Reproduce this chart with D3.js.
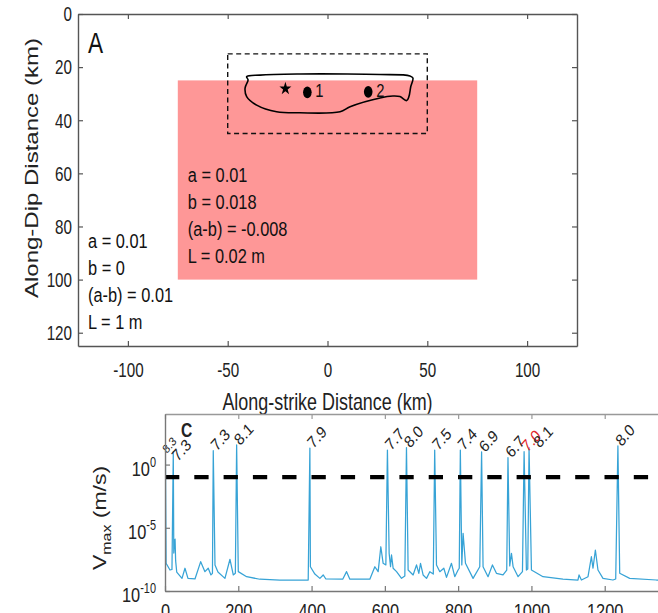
<!DOCTYPE html>
<html><head><meta charset="utf-8">
<script src="https://cdn.jsdelivr.net/npm/d3@7"></script>
<style>
body{margin:0;background:#fff;}
svg{display:block;font-family:"Liberation Sans",Arial,sans-serif;background:#fff;}
</style></head><body>
<svg id="c" width="658" height="613"></svg>
<script>
// ---------------- Panel A data ----------------
const xTicksA = [-100, -50, 0, 50, 100];
const yTicksA = [0, 20, 40, 60, 80, 100, 120];
const vwRegionX = [-75, 75];      // velocity-weakening patch (km)
const vwRegionY = [25, 100];
const boxX = [-50, 50];           // dashed box (km)
const boxY = [15, 45];
const contourX = [-40.5, -33.8, -13.8, 10, 26.3, 41.3, 42.8, 41.7, 40.8, 39.7, 36.3, 32.8, 26.3, 11.3, 6.3, -13.8, -25.5, -35.5, -40.5, -41.3, -39.8];
const contourY = [23.6, 23.0, 22.6, 22.6, 22.8, 23.3, 24.1, 27.4, 31.1, 32.6, 31.1, 30.9, 31.6, 34.9, 36.8, 37.2, 36.8, 34.3, 31.1, 27.9, 24.8];
const markerX = [-21.1, -10.1, 20.4];
const markerY = [28.1, 29.5, 29.3];
const markerShape = ["star", "dot", "dot"];
const markerLabel = ["", "1", "2"];
const vwText = ["a = 0.01", "b = 0.018", "(a-b) = -0.008", "L = 0.02 m"];
const vsText = ["a = 0.01", "b = 0", "(a-b) = 0.01", "L = 1 m"];

// ---------------- Panel C data ----------------
const timeTicks = [0, 200, 400, 600, 800, 1000, 1200];
const vTickExp = [-10, -5, 0];
const thresholdV = 0.1;
const traceT = [0, 3, 13.6, 19, 24, 26, 27.5, 29, 32, 46.4, 54.5, 62.7, 81.8, 97.4, 109, 118, 125.4, 129.5,
  136.4, 144.5, 163.6, 177.3, 186.3, 192, 200, 222.8, 259, 313.6, 390.8, 396.8, 409, 422.7, 431.7, 439, 485,
  495.5, 504.5, 559, 572.7, 581.7, 589, 595.3, 602.7, 611.7, 615.5, 618.2, 622.6, 631.9, 645.5, 654.5,
  663.5, 677.1, 686.4, 692.7, 697.3, 704.4, 713.7, 722.7, 732.2, 740.9, 750, 760.9, 768.2, 781.8, 790.8,
  799.8, 803, 810, 813.5, 820, 840.7, 859, 868, 881.6, 893.6, 904.5, 922.5, 932.6, 940.8, 945.5, 950,
  963.6, 975.5, 986.3, 990, 1000, 1031.6, 1086, 1127, 1130, 1136.4, 1154.4, 1163.6, 1168, 1174.5, 1181.6,
  1195.3, 1222.5, 1230, 1240.9, 1268.2, 1341, 1400];
const traceLogV = [-7.6, -7.8, -8.34, -8.3, -7.0, -6.0, -5.9, -7.6, -8.5, -9.0, -8.2, -9.0, -9.05, -7.68, -8.47, -8.2, -8.73, -8.6,
  -7.94, -8.5, -9.0, -7.49, -8.73, -8.6, -8.47, -8.87, -9.07, -9.13, -9.13, -8.08, -8.66, -9.0, -8.73, -9.05, -9.07,
  -8.47, -9.07, -9.07, -8.08, -8.47, -6.5, -7.81, -7.94, -7.02, -8.08, -7.15, -8.2, -8.47, -9.0, -8.81,
  -8.34, -8.73, -7.94, -8.6, -7.81, -8.73, -9.0, -8.47, -8.66, -7.94, -8.47, -8.2, -8.92, -7.81, -8.87,
  -8.34, -8.2, -7.94, -5.44, -7.81, -9.0, -8.08, -8.08, -8.87, -7.94, -8.6, -8.73, -8.34, -8.02, -7.02, -8.08,
  -8.87, -8.47, -8.34, -8.26, -8.34, -8.87, -9.07, -9.13, -8.73, -9.13, -8.87, -7.29, -8.2, -6.76, -8.34,
  -9.0, -9.13, -9.05, -8.6, -9.0, -9.13, -9.15];
const eventT = [1, 22.6, 131.7, 195.5, 395.4, 607, 659, 736, 806, 864, 936, 980, 993.5, 1236];
const eventLogV = [1.31, 1.02, 1.1, 1.55, 1.31, 1.15, 1.34, 1.15, 1.15, 1.0, 0.55, 1.02, 1.34, 1.47];
const eventMw = ["8.3", "7.3", "7.3", "8.1", "7.9", "7.7", "8.0", "7.5", "7.4", "6.9", "6.7", "7.0", "8.1", "8.0"];
const highlightEvent = 11;

// ---------------- drawing ----------------
const K = 0.78; // horizontal text compression (narrow font look)
const svg = d3.select("#c");

// ===== Panel A =====
const xA = d3.scaleLinear().domain([-125, 125]).range([78, 577]);
const yA = d3.scaleLinear().domain([0, 125]).range([14, 346]);
const gA = svg.append("g");

gA.append("rect")
  .attr("x", xA(vwRegionX[0])).attr("y", yA(vwRegionY[0]))
  .attr("width", xA(vwRegionX[1]) - xA(vwRegionX[0]))
  .attr("height", yA(vwRegionY[1]) - yA(vwRegionY[0]))
  .attr("fill", "#fe9797");

gA.append("rect")
  .attr("x", xA(boxX[0])).attr("y", yA(boxY[0]))
  .attr("width", xA(boxX[1]) - xA(boxX[0]))
  .attr("height", yA(boxY[1]) - yA(boxY[0]))
  .attr("fill", "none").attr("stroke", "#111").attr("stroke-width", 1.4)
  .attr("stroke-dasharray", "5,3.5");

const contourLine = d3.line().x(d => xA(d[0])).y(d => yA(d[1])).curve(d3.curveCatmullRomClosed.alpha(0.5));
gA.append("path").datum(d3.zip(contourX, contourY))
  .attr("d", contourLine).attr("fill", "none").attr("stroke", "#000").attr("stroke-width", 1.6);

markerX.forEach((mx, i) => {
  const px = xA(mx), py = yA(markerY[i]);
  if (markerShape[i] === "star") {
    gA.append("path").attr("d", d3.symbol(d3.symbolStar, 55)())
      .attr("transform", `translate(${px},${py}) scale(0.9,1)`).attr("fill", "#000");
  } else {
    gA.append("ellipse").attr("cx", px).attr("cy", py).attr("rx", 4.3).attr("ry", 5.9).attr("fill", "#000");
  }
  if (markerLabel[i]) {
    gA.append("text").text(markerLabel[i])
      .attr("transform", `translate(${px + 8},${py + 5}) scale(${K},1)`)
      .attr("font-size", 19).attr("fill", "#111");
  }
});

// annotation texts
vwText.forEach((t, i) => {
  gA.append("text").text(t)
    .attr("transform", `translate(${xA(-70)},${yA(63.1) + i * 27}) scale(${K},1)`)
    .attr("font-size", 21).attr("fill", "#111");
});
vsText.forEach((t, i) => {
  gA.append("text").text(t)
    .attr("transform", `translate(${xA(-120)},${yA(88.2) + i * 27}) scale(${K},1)`)
    .attr("font-size", 21).attr("fill", "#111");
});
gA.append("text").text("A")
  .attr("transform", `translate(${xA(-120)},52.7) scale(${K},1)`)
  .attr("font-size", 29).attr("fill", "#111");

// axes A
const axColA = "#555";
function styleAxis(g, col) {
  g.select(".domain").attr("stroke", col).attr("stroke-width", 1.4);
  g.selectAll(".tick line").attr("stroke", col).attr("stroke-width", 1.2);
}
const axB = gA.append("g").attr("transform", `translate(0,${yA(125)})`)
  .call(d3.axisBottom(xA).tickValues(xTicksA).tickSizeInner(-5).tickSizeOuter(0).tickFormat(d => String(d)));
styleAxis(axB, axColA);
axB.selectAll("text").attr("y", null).attr("dy", null)
  .attr("transform", `translate(0,31) scale(${K},1)`)
  .attr("font-size", 19.5).attr("fill", "#222").attr("font-family", null);

const axT = gA.append("g").attr("transform", `translate(0,${yA(0)})`)
  .call(d3.axisTop(xA).tickValues(xTicksA).tickSizeInner(-5).tickSizeOuter(0).tickFormat(""));
styleAxis(axT, axColA);

const axL = gA.append("g").attr("transform", `translate(${xA(-125)},0)`)
  .call(d3.axisLeft(yA).tickValues(yTicksA).tickSizeInner(-5).tickSizeOuter(0).tickFormat(d => String(d)));
styleAxis(axL, axColA);
axL.selectAll("text").attr("x", null).attr("dy", "0.35em")
  .attr("transform", `translate(-6,0) scale(${K},1)`)
  .attr("font-size", 19.5).attr("fill", "#222").attr("font-family", null);

const axR = gA.append("g").attr("transform", `translate(${xA(125)},0)`)
  .call(d3.axisRight(yA).tickValues(yTicksA).tickSizeInner(-5).tickSizeOuter(0).tickFormat(""));
styleAxis(axR, axColA);

svg.append("text").text("Along-strike Distance (km)")
  .attr("text-anchor", "middle")
  .attr("transform", `translate(${xA(0)},410) scale(${K},1)`)
  .attr("font-size", 23).attr("fill", "#222");
svg.append("text").text("Along-Dip Distance (km)")
  .attr("text-anchor", "middle")
  .attr("transform", `translate(38,168) scale(${K},1) rotate(-90)`)
  .attr("font-size", 24).attr("fill", "#222");

// ===== Panel C =====
const xC = d3.scaleLinear().domain([0, 1400]).range([165, 678]);
const yC = d3.scaleLog().domain([1e-10, 1e4]).range([591, 414]);
const gC = svg.append("g");

svg.append("defs").append("clipPath").attr("id", "clipC")
  .append("rect").attr("x", xC(0)).attr("y", yC(1e4)).attr("width", xC(1400) - xC(0)).attr("height", yC(1e-10) - yC(1e4));

const pts = d3.zip(traceT, traceLogV).concat(d3.zip(eventT, eventLogV)).sort((a, b) => a[0] - b[0]);
const vLine = d3.line().x(d => xC(d[0])).y(d => yC(Math.pow(10, d[1])));
gC.append("path").datum(pts).attr("clip-path", "url(#clipC)")
  .attr("d", vLine).attr("fill", "none").attr("stroke", "#37a3d6").attr("stroke-width", 1.25)
  .attr("stroke-linejoin", "round");

gC.append("line")
  .attr("x1", xC(0)).attr("x2", xC(1400)).attr("y1", yC(thresholdV)).attr("y2", yC(thresholdV))
  .attr("stroke", "#000").attr("stroke-width", 4.2).attr("stroke-dasharray", "14.3,15");

// panel letter
const letterC = { x: 181, y: 437 };
gC.append("text").text("C")
  .attr("transform", `translate(${letterC.x},${letterC.y}) scale(${K},1)`)
  .attr("font-size", 20).attr("font-weight", "bold").attr("fill", "#222");

// event labels (simple collision avoidance with previous label and panel letter)
let prevX = -Infinity;
eventT.forEach((t, i) => {
  const small = i === 0;
  const px = Math.max(xC(t) + (small ? 4 : 7), prevX + (small ? 0 : 12));
  prevX = px;
  let py = yC(Math.pow(10, eventLogV[i])) - (small ? 3 : 11);
  if (!small && px < letterC.x + 14) py = Math.max(py, letterC.y + 13);
  gC.append("text").text(eventMw[i])
    .attr("text-anchor", "middle").attr("dy", "0.35em")
    .attr("transform", `translate(${px},${py}) scale(0.88,1) rotate(-45)`)
    .attr("font-size", small ? 12 : 16.5)
    .attr("fill", i === highlightEvent ? "#e0262c" : "#222");
});

// axes C
const axColC = "#777";
const cB = gC.append("g").attr("transform", `translate(0,${yC(1e-10)})`)
  .call(d3.axisBottom(xC).tickValues(timeTicks).tickSizeInner(-5).tickSizeOuter(0).tickFormat(d => String(d)));
styleAxis(cB, axColC);
cB.selectAll("text").attr("y", null).attr("dy", null)
  .attr("transform", `translate(0,27) scale(${K},1)`)
  .attr("font-size", 21).attr("fill", "#222").attr("font-family", null);

const cT = gC.append("g").attr("transform", `translate(0,${yC(1e4)})`)
  .call(d3.axisTop(xC).tickValues(timeTicks).tickSizeInner(-5).tickSizeOuter(0).tickFormat(""));
styleAxis(cT, "#999");

const cL = gC.append("g").attr("transform", `translate(${xC(0)},0)`)
  .call(d3.axisLeft(yC).tickValues(vTickExp.map(e => Math.pow(10, e))).tickSizeInner(-5).tickSizeOuter(0).tickFormat(""));
styleAxis(cL, axColC);

vTickExp.forEach(e => {
  const t = gC.append("text").attr("text-anchor", "end")
    .attr("transform", `translate(156,${yC(Math.pow(10, e)) + 11}) scale(${K},1)`)
    .attr("fill", "#222");
  t.append("tspan").text("10").attr("font-size", 21);
  t.append("tspan").text(String(e)).attr("font-size", 14).attr("dy", -9);
});

const yl = svg.append("text").attr("text-anchor", "middle")
  .attr("transform", `translate(106,518) scale(${K},1) rotate(-90)`)
  .attr("fill", "#222");
yl.append("tspan").text("V").attr("font-size", 23);
yl.append("tspan").text("max").attr("font-size", 16).attr("dy", 6);
yl.append("tspan").text(" (m/s)").attr("font-size", 23).attr("dy", -6);
</script>
</body></html>
